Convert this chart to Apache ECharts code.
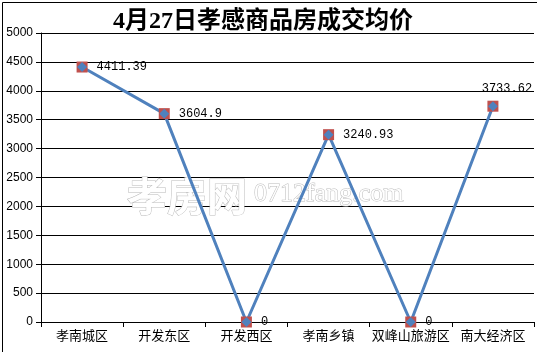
<!DOCTYPE html>
<html><head><meta charset="utf-8">
<script src="https://cdn.jsdelivr.net/npm/echarts@6/dist/echarts.min.js"></script>
<style>html,body{margin:0;padding:0;background:#fff}#c{width:537px;height:352px}</style>
</head><body><div id="c"></div>
<script>
var titleText = '4月27日孝感商品房成交均价';
var categories = ['孝南城区','开发东区','开发西区','孝南乡镇','双峰山旅游区','南大经济区'];
var values = [4411.39, 3604.9, 0, 3240.93, 0, 3733.62];
var valueLabels = ['4411.39','3604.9','0','3240.93','0','3733.62'];
var yTicks = [0,500,1000,1500,2000,2500,3000,3500,4000,4500,5000];

var chart = echarts.init(document.getElementById('c'), null, {renderer:'canvas'});
var labelFont = {fontFamily:'Liberation Mono, monospace', fontSize:12, color:'#000'};
var lineData = values.map(function(v,i){
  var lab = {show:true, position:'right', distance:9, formatter:valueLabels[i]};
  if (i === 5) { lab = {show:true, position:'top', distance:6, offset:[14,0], formatter:valueLabels[i]}; }
  return {value:v, label:lab};
});
chart.setOption({
  animation:false,
  title:{text:titleText, left:258, top:5, textAlign:'center',
    textStyle:{fontFamily:'Liberation Serif, Noto Sans CJK SC', fontWeight:'bold', fontSize:24, color:'#000'}},
  graphic:[
    {type:'rect', left:0, top:0, z:100, shape:{x:0.5,y:0.5,width:535,height:350}, style:{fill:null, stroke:'#000', lineWidth:1}},
    {type:'text', x:127, y:176, z:1, style:{text:'孝房网', font:'bold 40px "Noto Sans CJK SC"', fill:'#fff', stroke:'#bbb', lineWidth:1}},
    {type:'text', x:254, y:181, z:1, style:{text:'0712fang.com', font:'26px "Liberation Serif"', fill:'#fff', stroke:'#bbb', lineWidth:1}}
  ],
  grid:{left:41, right:3, top:33, bottom:30, containLabel:false},
  xAxis:{type:'category', data:categories, boundaryGap:true,
    axisLine:{lineStyle:{color:'#000', width:1}},
    axisTick:{show:true, length:5, lineStyle:{color:'#000'}},
    axisLabel:{color:'#000', fontSize:13, fontFamily:'Noto Sans CJK SC', margin:7, interval:0}},
  yAxis:{type:'value', min:yTicks[0], max:yTicks[yTicks.length-1], interval:yTicks[1]-yTicks[0],
    axisLine:{show:true, lineStyle:{color:'#000', width:1}},
    axisTick:{show:true, length:5, lineStyle:{color:'#000'}},
    axisLabel:{color:'#000', fontSize:12, fontFamily:'Liberation Sans, sans-serif', margin:8,
      formatter:function(v){return String(v);}},
    splitLine:{show:true, lineStyle:{color:'#000', width:1}}},
  series:[
    {type:'line', data:lineData, symbol:'rect', symbolSize:11, showAllSymbol:true,
      lineStyle:{color:'#4F81BD', width:3}, itemStyle:{color:'#C0504D'},
      label:labelFont, z:3},
    {type:'line', data:values, symbol:'diamond', symbolSize:10, showAllSymbol:true,
      lineStyle:{width:0, opacity:0}, itemStyle:{color:'#4F81BD'}, z:4, silent:true}
  ]
});
</script></body></html>
